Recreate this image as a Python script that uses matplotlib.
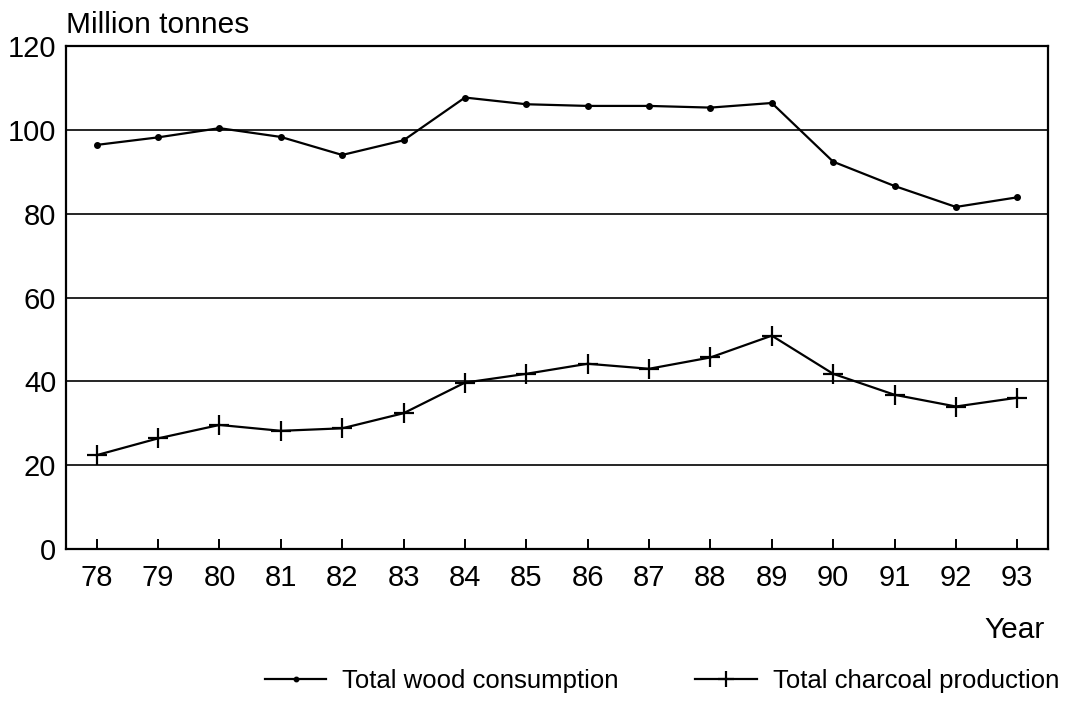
import matplotlib
matplotlib.use('Agg')
import matplotlib.pyplot as plt

plt.rcParams['font.family'] = ['Liberation Sans', 'DejaVu Sans']

years = [78, 79, 80, 81, 82, 83, 84, 85, 86, 87, 88, 89, 90, 91, 92, 93]
wood = [96.4, 98.2, 100.4, 98.3, 94.0, 97.5, 107.7, 106.1,
        105.7, 105.7, 105.3, 106.4, 92.4, 86.6, 81.6, 83.9]
charcoal = [22.4, 26.4, 29.6, 28.2, 28.8, 32.4, 39.7, 41.8,
            44.2, 43.0, 45.7, 50.9, 41.8, 36.8, 34.0, 36.1]
yticks = [0, 20, 40, 60, 80, 100, 120]

fig = plt.figure(figsize=(10.65, 7.03), dpi=100)
ax = fig.add_axes([0.062, 0.219, 0.922, 0.7156])

for y in yticks[1:-1]:
    ax.axhline(y, color='black', linewidth=1.2, zorder=1)

ax.plot(years, wood, color='black', linewidth=1.6, marker='o', markersize=4,
        label='Total wood consumption', zorder=3)
ax.plot(years, charcoal, color='black', linewidth=1.6, marker='+', markersize=14,
        markeredgewidth=1.6, label='Total charcoal production', zorder=3)

ax.set_xlim(77.5, 93.5)
ax.set_ylim(0, 120)
ax.set_xticks(years)
ax.set_xticklabels([str(y) for y in years])
ax.set_yticks(yticks)
ax.tick_params(axis='x', direction='in', length=7, width=1.4, pad=11, labelsize=21)
ax.tick_params(axis='y', length=0, pad=7, labelsize=21)
for s in ax.spines.values():
    s.set_linewidth(1.6)

ax.text(0.0, 1.026, 'Million tonnes', transform=ax.transAxes, ha='left',
        va='baseline', fontsize=21.5)
fig.text(0.981, 1 - 638 / 703, 'Year', ha='right', va='baseline', fontsize=21.5)

fig.legend(loc='lower right', bbox_to_anchor=(1.016, -0.018), ncol=2,
           frameon=False, fontsize=18.5, handlelength=2.4, handletextpad=0.6,
           columnspacing=3.0, markerscale=0.8)

fig.savefig('out.png', dpi=100)
